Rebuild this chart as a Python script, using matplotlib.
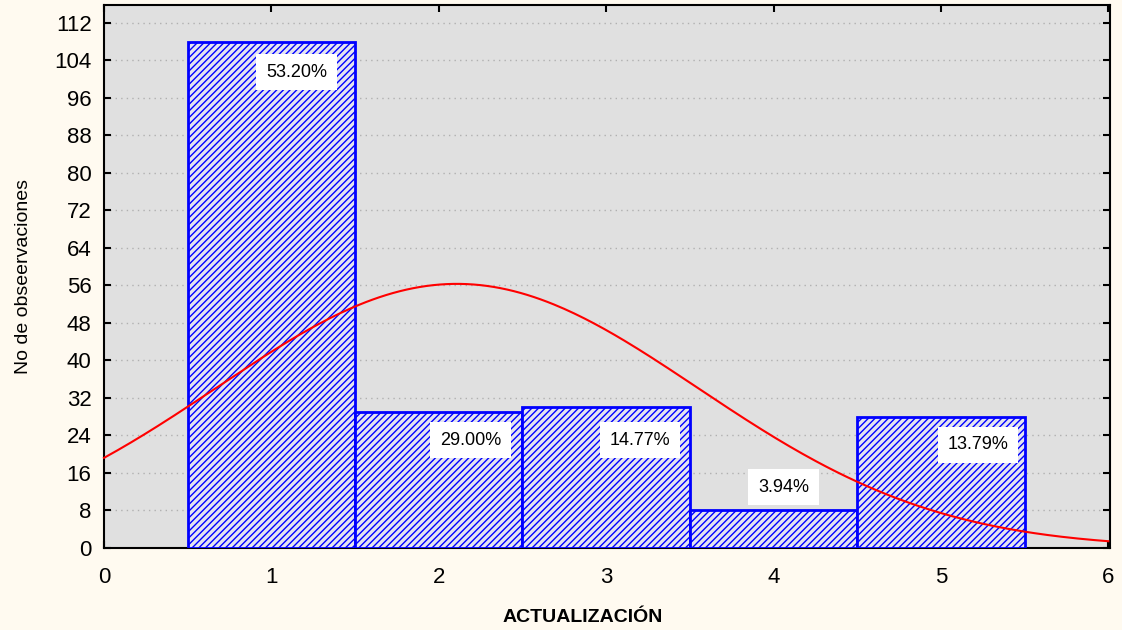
import numpy as np
import matplotlib
matplotlib.use("Agg")
import matplotlib.pyplot as plt

plt.rcParams['font.family'] = ['Liberation Sans', 'DejaVu Sans']
plt.rcParams['hatch.color'] = '#2020F0'
plt.rcParams['hatch.linewidth'] = 1.0

categories = [1, 2, 3, 4, 5]
counts = [108, 29, 30, 8, 28]
pct_labels = ["53.20%", "29.00%", "14.77%", "3.94%", "13.79%"]
label_x = [1.15, 2.19, 3.2, 4.06, 5.22]
label_y = [101.5, 23, 23, 13, 22]
yticks = list(range(0, 113, 8))
xticks = [0, 1, 2, 3, 4, 5, 6]

fig = plt.figure(figsize=(11.22, 6.30), dpi=100, facecolor='#FFFAF0')
ax = fig.add_axes([104/1122, (630-548)/630, (1110-104)/1122, (548-5)/630])
ax.set_facecolor('#E0E0E0')

ax.bar(categories, counts, width=1.0, facecolor='#E4E4F0', edgecolor='#0000FF',
       linewidth=2, hatch='/////', zorder=3)

# normal fit from the data
c = np.array(categories, float); n = np.array(counts, float)
N = n.sum(); mu = (c * n).sum() / N
sd = np.sqrt(((c - mu) ** 2 * n).sum() / N)
xs = np.linspace(0, 6, 300)
ys = N * 1.0 / (sd * np.sqrt(2 * np.pi)) * np.exp(-(xs - mu) ** 2 / (2 * sd ** 2))
ax.plot(xs, ys, color='#FF0000', lw=1.5, zorder=5, clip_on=False)

for x, y, t in zip(label_x, label_y, pct_labels):
    ax.text(x, y, t, ha='center', va='center', fontsize=13, zorder=6,
            bbox=dict(facecolor='white', edgecolor='none', pad=7))

ax.set_xlim(0, 6.01)
ax.set_ylim(0, 115.8)
ax.set_yticks(yticks)
ax.set_xticks(xticks)
ax.yaxis.grid(True, linestyle=(0, (1, 3)), color='#B0B0B0', lw=1)
ax.set_axisbelow(True)
ax.tick_params(axis='both', direction='in', labelsize=16, length=5, width=1.5,
               top=True, right=True)
ax.tick_params(axis='y', pad=9)
ax.tick_params(axis='x', pad=14)
for s in ax.spines.values():
    s.set_linewidth(1.5)

ax.set_ylabel('No de obseervaciones', fontsize=14, labelpad=16)
ax.set_xlabel('ACTUALIZACIÓN', fontsize=14, fontweight='bold', va='center')
ax.xaxis.set_label_coords(0.476, -69/543)

fig.savefig('out.png', dpi=100, facecolor=fig.get_facecolor())
